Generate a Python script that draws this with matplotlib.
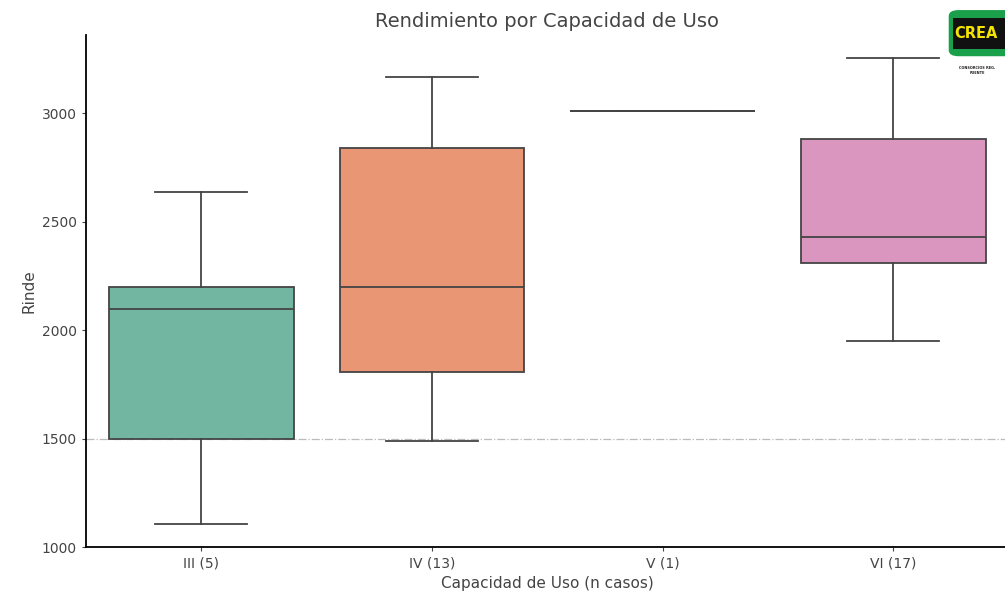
import matplotlib
matplotlib.use("Agg")
import matplotlib.pyplot as plt
from matplotlib.patches import FancyBboxPatch
import seaborn as sns

# Data (boxplot summary per class)
categories = ["III (5)", "IV (13)", "V (1)", "VI (17)"]
whislo = [1108, 1488, 3010, 1948]
q1 = [1500, 1806, 3010, 2308]
medians = [2095, 2198, 3010, 2428]
q3 = [2200, 2840, 3010, 2880]
whishi = [2635, 3166, 3010, 3254]

palette = [sns.desaturate(c, 0.75) for c in sns.color_palette("Set2", 4)]
line_color = "#444444"

stats = []
for i, label in enumerate(categories):
    stats.append({
        "label": label, "whislo": whislo[i], "q1": q1[i], "med": medians[i],
        "q3": q3[i], "whishi": whishi[i], "fliers": [],
    })

fig = plt.figure(figsize=(10.05, 5.92), dpi=100)
ax = fig.add_axes([0.0856, 0.076, 0.918, 0.865])

bp = ax.bxp(stats, positions=range(len(categories)), widths=0.8, patch_artist=True,
            showfliers=False,
            boxprops=dict(edgecolor=line_color, linewidth=1.3),
            medianprops=dict(color=line_color, linewidth=1.3),
            whiskerprops=dict(color=line_color, linewidth=1.3),
            capprops=dict(color=line_color, linewidth=1.3))
for patch, c in zip(bp["boxes"], palette):
    patch.set_facecolor(c)
for cap in bp["caps"]:
    cap.set_xdata([cap.get_xdata().mean() - 0.2, cap.get_xdata().mean() + 0.2])

ax.axhline(1500, color="#bbbbbb", linestyle="-.", linewidth=0.9, zorder=0)

ax.set_xlim(-0.5, 3.5)
ax.set_ylim(1000, 3360)
ax.set_yticks([1000, 1500, 2000, 2500, 3000])
ax.set_xticks(range(len(categories)))
ax.set_xticklabels(categories)
ax.tick_params(labelsize=10, colors="#444444", length=3)
ax.spines["top"].set_visible(False)
ax.spines["right"].set_visible(False)
ax.spines["left"].set_linewidth(1.3)
ax.spines["bottom"].set_linewidth(1.3)
ax.set_xlabel("Capacidad de Uso (n casos)", fontsize=11, color="#444444", labelpad=4)
ax.set_ylabel("Rinde", fontsize=11, color="#444444")
ax.set_title("Rendimiento por Capacidad de Uso", fontsize=14, color="#444444", pad=6)

# CREA logo top right
fig.patches.append(FancyBboxPatch((0.944, 0.905), 0.07, 0.078, boxstyle="round,pad=0,rounding_size=0.01",
                                  transform=fig.transFigure, facecolor="#1aa04a", edgecolor="none"))
fig.patches.append(FancyBboxPatch((0.948, 0.918), 0.07, 0.052, boxstyle="square,pad=0",
                                  transform=fig.transFigure, facecolor="#111111", edgecolor="none"))
fig.text(0.9495, 0.943, "CREA", fontsize=10.5, fontweight="bold", color="#f5e400", va="center", ha="left")
fig.text(0.972, 0.888, "CONSORCIOS REG.\nFUENTE", fontsize=2.5, color="#222222", ha="center", va="top",
         fontweight="bold")

fig.savefig("out.png", dpi=100)
